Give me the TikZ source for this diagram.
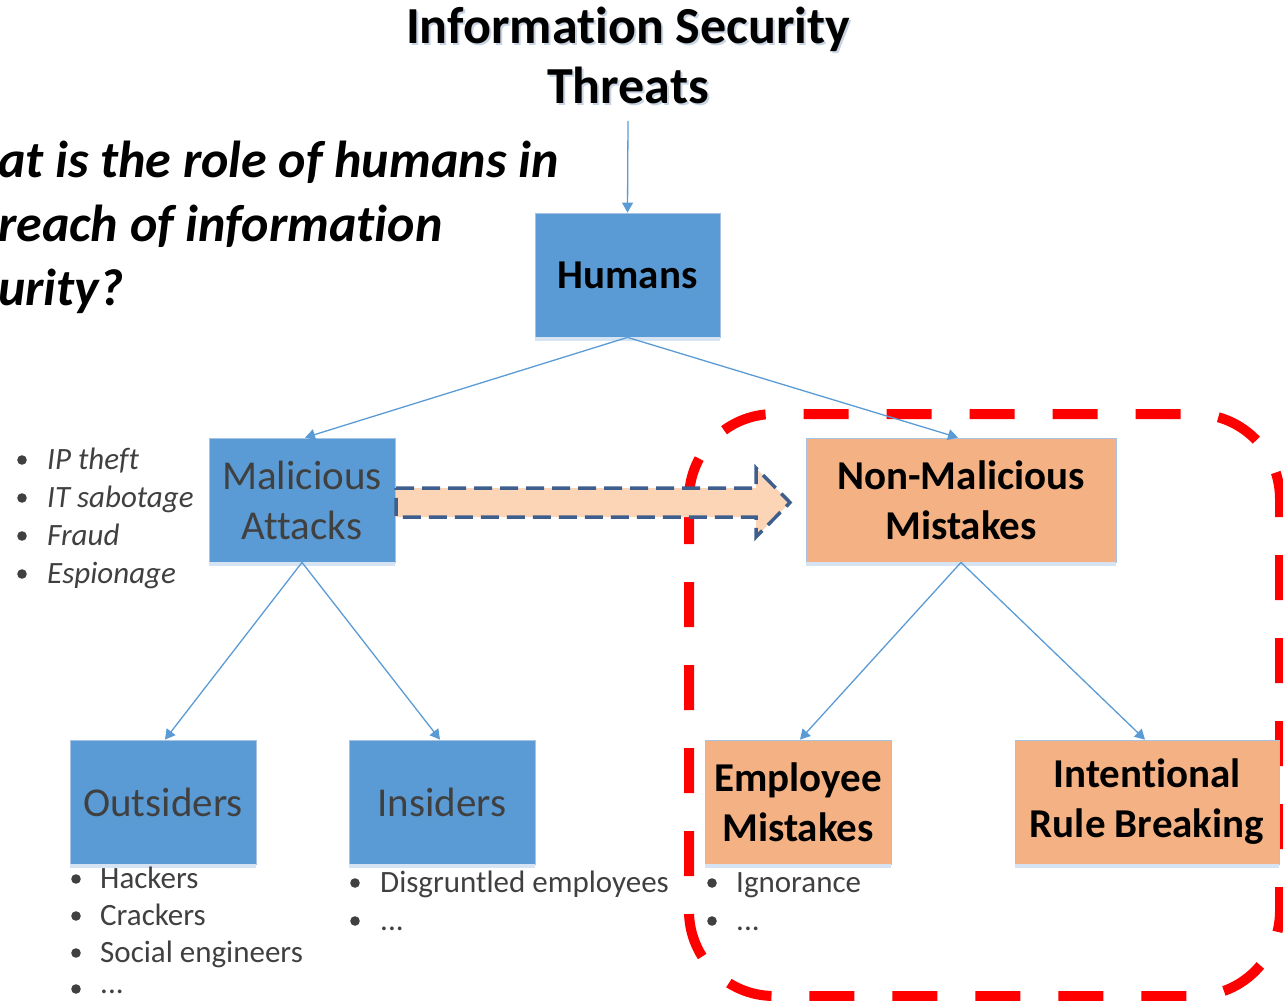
\documentclass[tikz,border=0pt]{standalone}
\usepackage{fontspec}
\setmainfont{Carlito}[Ligatures=NoCommon]
\usetikzlibrary{arrows.meta,calc}
\definecolor{boxblue}{HTML}{5B9BD5}
\definecolor{boxorange}{HTML}{F4B183}
\definecolor{peach}{HTML}{FBD5B5}
\definecolor{darkblue}{HTML}{3E5F8D}
\definecolor{txtgray}{HTML}{404040}
\definecolor{stripcol}{HTML}{D5E3F2}
\definecolor{boxline}{HTML}{A7C3E3}
\definecolor{shadowcol}{HTML}{C8D4E4}
\begin{document}
\begin{tikzpicture}[x=1pt,y=-1pt,
  box/.style={draw=boxline, line width=0.8pt, minimum height=124pt, inner sep=0pt, align=center, font=\fontsize{41}{50}\selectfont},
  bbox/.style={box, fill=boxblue},
  obox/.style={box, fill=boxorange},
  boldbox/.style={font=\fontsize{41}{50}\selectfont\bfseries},
  conn/.style={draw=boxblue, line width=1.3pt, -{Triangle[length=10pt,width=11pt]}},
  itemtext/.style={anchor=base west, inner sep=0pt, text=txtgray, font=\fontsize{31}{35}\selectfont},
  itemital/.style={itemtext, font=\fontsize{31}{35}\selectfont\itshape},
  titletext/.style={anchor=base, inner sep=0pt, font=\fontsize{52}{60}\selectfont\bfseries},
  questiontext/.style={anchor=base west, inner sep=0pt, font=\fontsize{52}{64}\selectfont\bfseries\itshape},
  bul/.style={fill=txtgray}
]
\useasboundingbox (0,0) rectangle (1283,1001);
\clip (0,0) rectangle (1283,1001);

% red dashed region
\draw[red, line width=10pt, dash pattern=on 45pt off 38pt, rounded corners=85pt]
  (689,414) rectangle (1280,996);

% title with faint shadow
\node[titletext, text=shadowcol] (title1s) at (630,45) {Information Security};
\node[titletext, text=shadowcol] (title2s) at (630,105) {Threats};
\node[titletext] (title1) at (628,43) {Information Security};
\node[titletext] (title2) at (628,103) {Threats};

% question
\node[questiontext] (q1) at (-2,177) {at is the role of humans in};
\node[questiontext] (q2) at (-2,241) {reach of information};
\node[questiontext] (q3) at (-2,305) {urity?};

% boxes
\node[bbox, boldbox, minimum width=185pt] (humans) at (627.5,275) {Humans};
\node[bbox, minimum width=186pt, text=txtgray] (mal) at (302,500) {Malicious\\Attacks};
\node[obox, boldbox, minimum width=310pt] (nonmal) at (961,500) {Non-Malicious\\Mistakes};
\node[bbox, minimum width=186pt, text=txtgray] (out) at (163,802) {Outsiders};
\node[bbox, minimum width=186pt, text=txtgray] (ins) at (442,802) {Insiders};
\node[obox, boldbox, minimum width=186pt] (emp) at (798,802) {Employee\\Mistakes};
\node[obox, boldbox, minimum width=264pt] (intent) at (1147,802) {Intentional\\Rule Breaking};

\foreach \n in {humans,mal,nonmal,out,ins,emp,intent}
  \fill[stripcol] (\n.south west) rectangle ([yshift=-4pt]\n.south east);

% connectors
\coordinate (tarrow) at (628,121);
\draw[conn] (tarrow) -- (humans.north);
\draw[conn] (humans.south) -- ([xshift=3pt]mal.north);
\draw[conn] (humans.south) -- ([xshift=-3pt]nonmal.north);
\draw[conn] (mal.south) -- ([xshift=2pt]out.north);
\draw[conn] (mal.south) -- ([xshift=-2pt]ins.north);
\draw[conn] (nonmal.south) -- ([xshift=2pt]emp.north);
\draw[conn] (nonmal.south) -- ([xshift=-2pt]intent.north);

% block arrow
\draw[darkblue, fill=peach, line width=3.5pt, dash pattern=on 18pt off 8pt, line join=miter]
  (396,488) -- (756,488) -- (756,468) -- (790,502.5) -- (756,537) -- (756,517) -- (396,517) -- cycle;

% lists
\node[itemital] (m1) at (47,469) {IP theft};
\node[itemital] (m2) at (47,507) {IT sabotage};
\node[itemital] (m3) at (47,545) {Fraud};
\node[itemital] (m4) at (47,583) {Espionage};
\foreach \y in {460,498,536,574} \fill[bul] (22,\y) circle (4.8pt);

\node[itemtext] (o1) at (100,888) {Hackers};
\node[itemtext] (o2) at (100,925) {Crackers};
\node[itemtext] (o3) at (100,962) {Social engineers};
\node[itemtext] (o4) at (100,993) {...};
\foreach \y in {879,916,953,989} \fill[bul] (76,\y) circle (4.8pt);

\node[itemtext] (i1) at (380,892) {Disgruntled employees};
\node[itemtext] (i2) at (380,930) {...};
\foreach \y in {883,921} \fill[bul] (355,\y) circle (4.8pt);

\node[itemtext] (e1) at (736,892) {Ignorance};
\node[itemtext] (e2) at (736,930) {...};
\foreach \y in {883,921} \fill[bul] (712,\y) circle (4.8pt);
\end{tikzpicture}
\end{document}
